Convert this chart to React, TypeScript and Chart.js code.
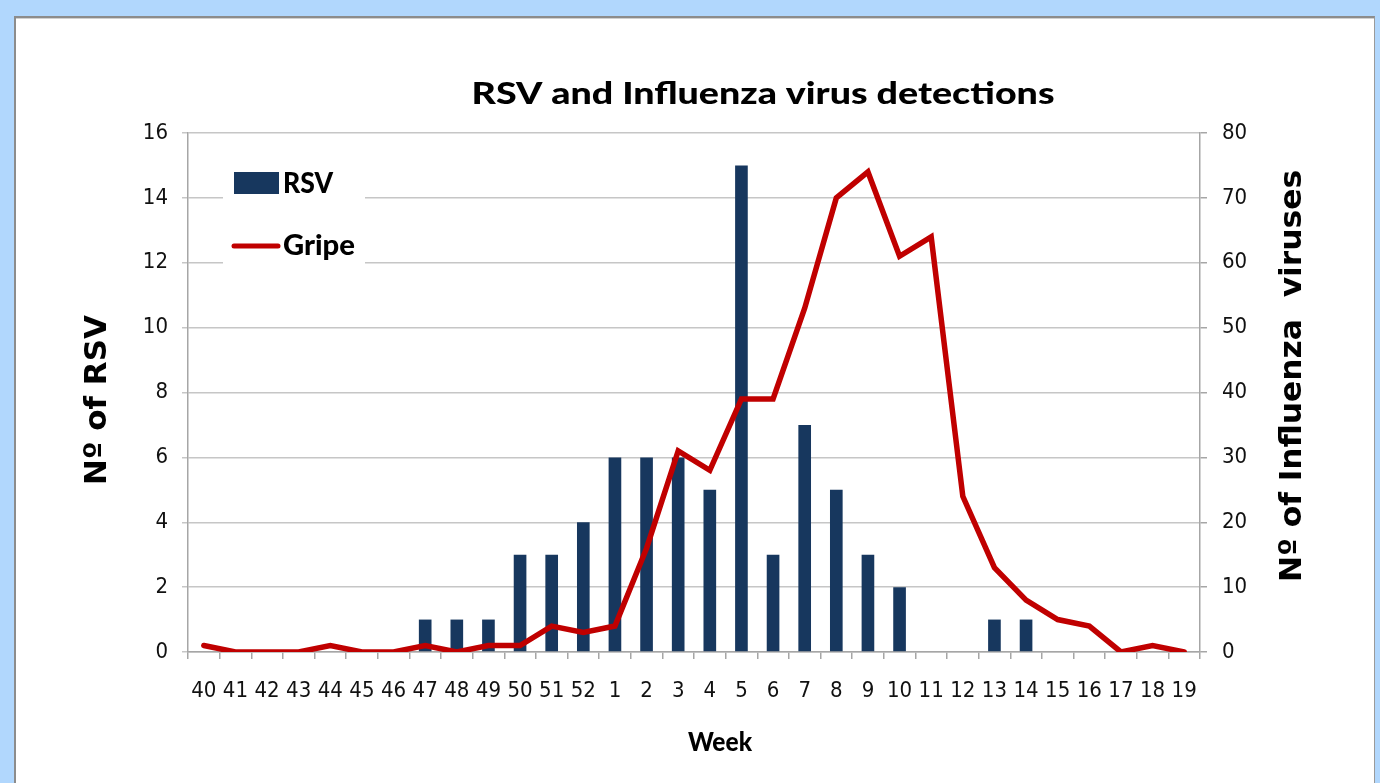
import React, { useEffect, useRef } from "react";
import { Chart, registerables } from "chart.js";

Chart.register(...registerables);

const weeks = [
  "40", "41", "42", "43", "44", "45", "46", "47", "48", "49", "50", "51", "52",
  "1", "2", "3", "4", "5", "6", "7", "8", "9", "10", "11", "12", "13", "14", "15", "16", "17", "18", "19",
];
const rsvValues = [0, 0, 0, 0, 0, 0, 0, 1, 1, 1, 3, 3, 4, 6, 6, 6, 5, 15, 3, 7, 5, 3, 2, 0, 0, 1, 1, 0, 0, 0, 0, 0];
const gripeValues = [1, 0, 0, 0, 1, 0, 0, 1, 0, 1, 1, 4, 3, 4, 16, 31, 28, 39, 39, 53, 70, 74, 61, 64, 24, 13, 8, 5, 4, 0, 1, 0];

const chartTitle = "RSV and Influenza virus detections";
const xTitle = "Week";
const yLeftTitle = "Nº of RSV";
const yRightTitle = "Nº of Influenza  viruses";

const NARROW = '"Liberation Sans Narrow", "Arial Narrow", "DejaVu Sans Condensed", Lato, sans-serif';
const HEAD = 'Lato, "Open Sans", sans-serif';
const WIDE = '"DejaVu Sans", Verdana, sans-serif';
const BAR_COLOR = "#17375e";
const LINE_COLOR = "#c00000";

function fittedText(
  ctx: CanvasRenderingContext2D,
  text: string,
  cx: number,
  cy: number,
  font: string,
  targetWidth: number,
  rotation = 0,
  align: "center" | "left" = "center",
  baseline: CanvasTextBaseline = "alphabetic"
) {
  ctx.save();
  ctx.font = font;
  const w = ctx.measureText(text).width;
  const sx = w > 0 ? targetWidth / w : 1;
  ctx.translate(cx, cy);
  ctx.rotate(rotation);
  ctx.scale(sx, 1);
  ctx.textAlign = align;
  ctx.textBaseline = baseline;
  ctx.fillStyle = "#000";
  ctx.fillText(text, 0, 0);
  ctx.restore();
}

const decorations = {
  id: "decorations",
  afterDraw(chart: any) {
    const ctx: CanvasRenderingContext2D = chart.ctx;
    const ca = chart.chartArea;
    fittedText(ctx, chartTitle, 763, 104, `900 31px ${HEAD}`, 583);
    fittedText(ctx, xTitle, 720, 751, `900 26px ${HEAD}`, 64);
    fittedText(ctx, yLeftTitle, 98, 400, `bold 31px ${WIDE}`, 170, -Math.PI / 2, "center", "middle");
    fittedText(ctx, yRightTitle, 1293, 376, `bold 31px ${WIDE}`, 412, -Math.PI / 2, "center", "middle");

    const lx = ca.left;
    ctx.save();
    ctx.fillStyle = "#ffffff";
    ctx.fillRect(lx + 35, 160, 142, 112);
    const ds = chart.data.datasets;
    const bar = ds.find((d: any) => d.type === "bar");
    const line = ds.find((d: any) => d.type === "line");
    ctx.fillStyle = bar.backgroundColor;
    ctx.fillRect(lx + 46, 172, 45, 22);
    ctx.strokeStyle = line.borderColor;
    ctx.lineWidth = 5;
    ctx.lineCap = "round";
    ctx.beginPath();
    ctx.moveTo(lx + 46, 246);
    ctx.lineTo(lx + 90, 246);
    ctx.stroke();
    ctx.restore();
    fittedText(ctx, bar.label, lx + 95, 193, `900 29px ${HEAD}`, 50, 0, "left");
    fittedText(ctx, line.label, lx + 95, 255, `900 29px ${HEAD}`, 72, 0, "left");
  },
};

export default function App() {
  const ref = useRef<HTMLCanvasElement | null>(null);

  useEffect(() => {
    if (!ref.current) return;
    const chart = new Chart(ref.current, {
      type: "bar",
      data: {
        labels: weeks,
        datasets: [
          {
            type: "line",
            label: "Gripe",
            data: gripeValues,
            yAxisID: "y1",
            borderColor: LINE_COLOR,
            backgroundColor: LINE_COLOR,
            borderWidth: 5.5,
            pointRadius: 0,
            tension: 0,
            borderCapStyle: "round",
            order: 1,
          } as any,
          {
            type: "bar",
            label: "RSV",
            data: rsvValues,
            yAxisID: "y",
            backgroundColor: BAR_COLOR,
            barPercentage: 0.4,
            categoryPercentage: 1,
            order: 2,
          } as any,
        ],
      },
      options: {
        responsive: false,
        animation: false,
        layout: { padding: { top: 133, left: 0, right: 0, bottom: 0 } },
        plugins: {
          legend: { display: false },
          title: { display: false },
          tooltip: { enabled: false },
        },
        scales: {
          x: {
            type: "category",
            offset: true,
            grid: {
              offset: true,
              drawOnChartArea: false,
              drawTicks: true,
              tickLength: 7,
              color: "#a6a6a6",
              lineWidth: 1.5,
            },
            border: { color: "#a6a6a6", width: 1.5 },
            ticks: {
              autoSkip: false,
              maxRotation: 0,
              padding: 19,
              color: "#111",
              font: { family: NARROW, size: 22 },
            },
            afterFit: (s: any) => {
              s.height = 131;
            },
          },
          y: {
            position: "left",
            min: 0,
            max: 16,
            ticks: {
              stepSize: 2,
              padding: 14,
              color: "#111",
              font: { family: NARROW, size: 22 },
            },
            grid: { color: "#c6c6c6", lineWidth: 1.5, tickLength: 6 },
            border: { color: "#a6a6a6", width: 1.5 },
            afterFit: (s: any) => {
              s.width = 188;
            },
          },
          y1: {
            position: "right",
            min: 0,
            max: 80,
            ticks: {
              stepSize: 10,
              padding: 15,
              color: "#111",
              font: { family: NARROW, size: 22 },
            },
            grid: { drawOnChartArea: false, color: "#a6a6a6", lineWidth: 1.5, tickLength: 7 },
            border: { color: "#a6a6a6", width: 1.5 },
            afterFit: (s: any) => {
              s.width = 180;
            },
          },
        },
      },
      plugins: [decorations],
    });
    return () => chart.destroy();
  }, []);

  return (
    <div
      style={{
        position: "fixed",
        left: 0,
        top: 0,
        width: 1380,
        height: 783,
        background: "#b1d7fd",
        overflow: "hidden",
      }}
    >
      <div
        style={{
          position: "absolute",
          left: 14,
          top: 16,
          width: 1358,
          height: 800,
          background: "#ffffff",
          borderLeft: "2px solid #8c8c8c",
          borderTop: "2px solid #8c8c8c",
          borderRight: "1px solid #9a9a9a",
          boxShadow: "inset 0 1px 0 #d0d0d0",
        }}
      />
      <canvas
        ref={ref}
        width={1380}
        height={783}
        style={{ position: "absolute", left: 0, top: 0, width: 1380, height: 783 }}
      />
    </div>
  );
}
